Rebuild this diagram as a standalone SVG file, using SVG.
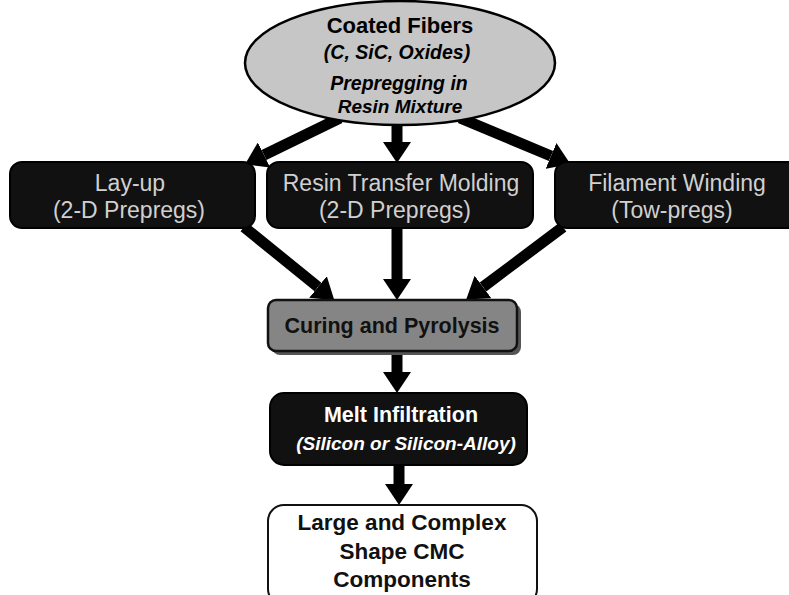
<svg xmlns="http://www.w3.org/2000/svg" width="789" height="595" viewBox="0 0 789 595">
<style>
.t{font-family:"Liberation Sans",Arial,sans-serif;text-anchor:middle}
.b{font-weight:bold}
.i{font-style:italic}
.dk{fill:#111;stroke:#000;stroke-width:2}
.lt{fill:#d0d0d0;font-size:23px}
.ar{stroke:#000;stroke-width:11;fill:none;marker-end:url(#ah)}
</style>
<defs>
<marker id="ah" markerUnits="userSpaceOnUse" markerWidth="22" markerHeight="28" refX="0" refY="14" orient="auto" viewBox="0 0 22 28">
<path d="M0,0 L21,14 L0,28 z" fill="#000"/>
</marker>
</defs>
<rect width="789" height="595" fill="#fff"/>
<g id="connectors">
<line class="ar" x1="340" y1="118" x2="264" y2="155"/>
<line class="ar" x1="397" y1="122" x2="397" y2="142"/>
<line class="ar" x1="460" y1="118" x2="551" y2="156"/>
<line class="ar" x1="244" y1="227" x2="318" y2="287"/>
<line class="ar" x1="397" y1="227" x2="397" y2="279"/>
<line class="ar" x1="563" y1="227" x2="483" y2="287"/>
<line class="ar" x1="397" y1="352" x2="397" y2="372"/>
<line class="ar" x1="399" y1="465" x2="399" y2="484"/>
</g>
<g id="coated">
<ellipse cx="400" cy="63" rx="155" ry="62" fill="#c6c6c6" stroke="#000" stroke-width="2.5"/>
<text class="t b" x="400" y="33" font-size="22">Coated Fibers</text>
<text class="t b i" x="397" y="59" font-size="19.5">(C, SiC, Oxides)</text>
<text class="t b i" x="399" y="90" font-size="19.5">Prepregging in</text>
<text class="t b i" x="400" y="113" font-size="19">Resin Mixture</text>
</g>
<g id="layup">
<rect class="dk" x="10" y="162" width="245" height="66" rx="12"/>
<text class="t lt" x="130" y="191">Lay-up</text>
<text class="t lt" x="129" y="218">(2-D Prepregs)</text>
</g>
<g id="rtm">
<rect class="dk" x="267" y="162" width="266" height="66" rx="12"/>
<text class="t lt" x="401" y="191">Resin Transfer Molding</text>
<text class="t lt" x="395" y="218">(2-D Prepregs)</text>
</g>
<g id="fw">
<rect class="dk" x="555" y="162" width="250" height="66" rx="12"/>
<text class="t lt" x="677" y="191">Filament Winding</text>
<text class="t lt" x="672" y="218">(Tow-pregs)</text>
</g>
<g id="curing">
<rect x="272" y="304" width="249" height="51" rx="8" fill="#555"/>
<rect x="268" y="300" width="249" height="51" rx="8" fill="#858585" stroke="#111" stroke-width="2.5"/>
<text class="t b" x="392" y="333" font-size="21.5" fill="#111">Curing and Pyrolysis</text>
</g>
<g id="melt">
<rect class="dk" x="270" y="393" width="257" height="72" rx="14"/>
<text class="t b" x="401" y="422" font-size="21.5" fill="#fff">Melt Infiltration</text>
<text class="t b i" x="406" y="450" font-size="19" fill="#fff">(Silicon or Silicon-Alloy)</text>
</g>
<g id="final">
<rect x="268" y="505" width="269" height="100" rx="16" fill="#fff" stroke="#111" stroke-width="2"/>
<text class="t b" x="402" y="530" font-size="22.5" fill="#111">Large and Complex</text>
<text class="t b" x="402" y="559" font-size="22.5" fill="#111">Shape CMC</text>
<text class="t b" x="402" y="587" font-size="22.5" fill="#111">Components</text>
</g>
</svg>
